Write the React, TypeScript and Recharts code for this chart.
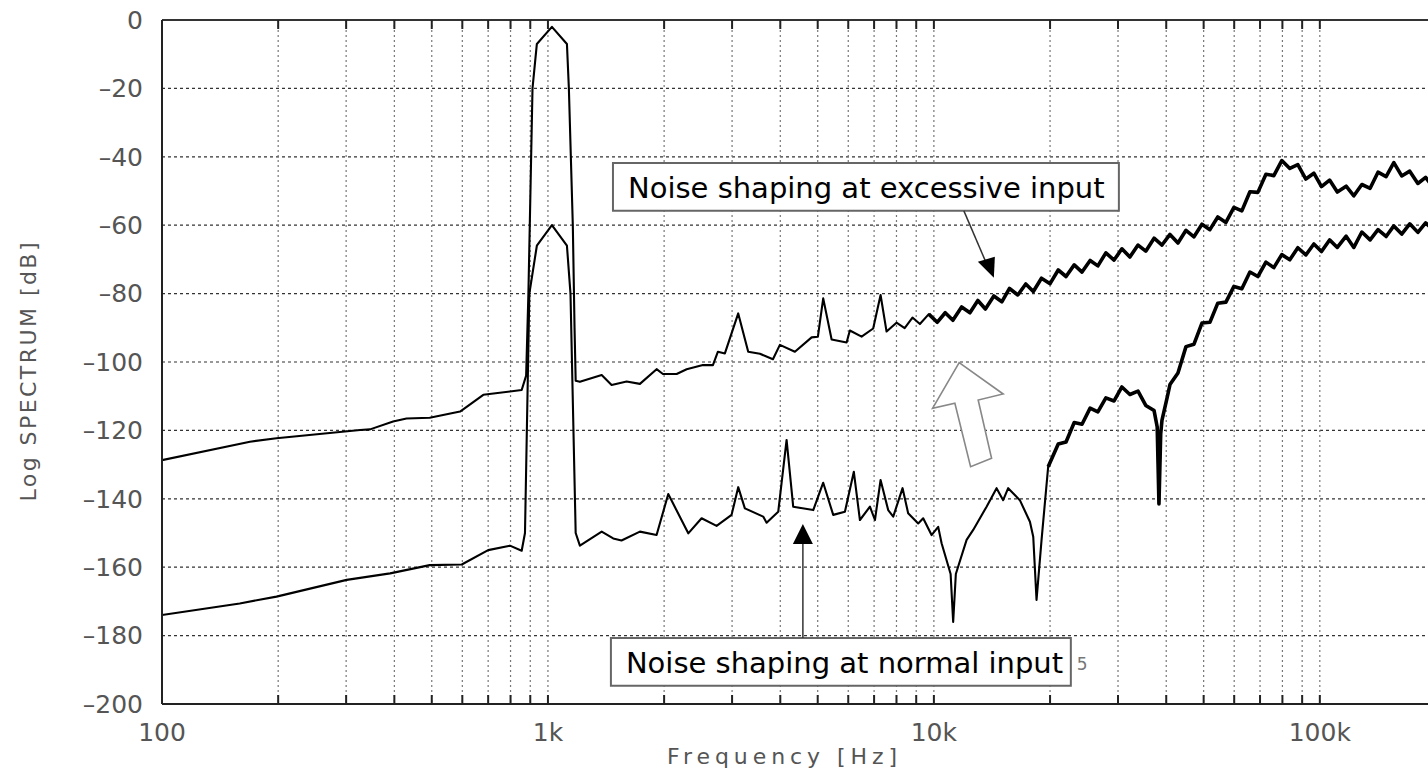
import React from 'react';
import {
  ComposedChart,
  Line,
  XAxis,
  YAxis,
  CartesianGrid,
  ReferenceArea,
  ReferenceLine,
  ReferenceDot,
} from 'recharts';

// ---------- axis ticks ----------
const freqTicks = [
  100, 200, 300, 400, 500, 600, 700, 800, 900,
  1000, 2000, 3000, 4000, 5000, 6000, 7000, 8000, 9000,
  10000, 20000, 30000, 40000, 50000, 60000, 70000, 80000, 90000,
  100000, 200000,
];
const freqLabelValues = [100, 1000, 10000, 100000];
const freqLabelTexts = ['100', '1k', '10k', '100k'];
const dbTicks = [0, -20, -40, -60, -80, -100, -120, -140, -160, -180, -200];

// ---------- series: noise shaping at excessive input ----------
const excessFreq = [
  100, 169, 198, 326, 346, 397, 430, 494, 592, 680,
  855, 878, 890, 912, 936, 1024, 1120, 1133, 1160, 1172,
  1180, 1210, 1378, 1462, 1599, 1731, 1912, 1986, 2155, 2288,
  2521, 2676, 2757, 2874, 3112, 3303, 3542, 3828, 3990, 4364,
  4822, 5006, 5167, 5433, 5941, 6058, 6497, 6962, 7276, 7541,
  8000, 8400, 8800, 9200, 9700, 10200, 10700, 11200, 11800, 12400,
  13000, 13600, 14300, 15000, 15700, 16500, 17300, 18100, 19000, 20000,
  21000, 22000, 23100, 24200, 25400, 26600, 27900, 29300, 30700, 32200,
  33800, 35400, 37200, 39000, 40900, 42900, 45000, 47200, 49500, 51900,
  54400, 57100, 59900, 62800, 65900, 69100, 72500, 76000, 79700, 83600,
  87700, 92000, 96500, 101000, 106000, 111000, 117000, 122500, 128500, 135000,
  141500, 148500, 155500, 163000, 171000, 179500, 188000, 197000,
];
const excessDb = [
  -128.7, -123.3, -122.3, -119.9, -119.7, -117.4, -116.5, -116.3, -114.5, -109.6,
  -108.2, -104, -80, -20, -7, -2, -7, -20, -60, -90,
  -105.5, -105.8, -103.8, -106.7, -105.7, -106.4, -102.1, -103.5, -103.5, -102.1,
  -100.9, -100.9, -97, -97.5, -85.8, -97, -97.6, -99.2, -95, -97,
  -92.8, -92.6, -81.4, -93.4, -94.3, -90.8, -92.6, -90.2, -80.4, -91.1,
  -88.5, -90.1, -87.0, -88.9, -86.0, -88.4, -85.6, -87.8, -83.9, -85.6,
  -82.0, -84.5, -80.7, -82.4, -78.5, -80.4, -77.2, -79.4, -75.5, -77.1,
  -73.1, -75.0, -71.6, -73.7, -70.3, -71.9, -68.1, -70.2, -66.9, -69.3,
  -65.8, -67.6, -63.8, -65.8, -62.7, -65.2, -61.5, -63.4, -59.7, -61.3,
  -57.6, -59.2, -54.8, -55.8, -50.2, -50.4, -45.1, -45.5, -41.1, -43.4,
  -42.3, -46.5, -44.8, -48.7, -46.8, -50.3, -48.6, -51.4, -48.1, -49.2,
  -44.5, -45.8, -41.7, -45.6, -44.2, -47.8, -46.0, -49.0,
];
// first sample of the dense-noise (thick) region
const excessNoiseStart = 9700;

// ---------- series: noise shaping at normal input ----------
const normalFreq = [
  100, 159, 198, 301, 390, 494, 598, 700, 797, 855,
  872, 895, 936, 1024, 1120, 1144, 1180, 1210, 1378, 1476,
  1551, 1731, 1912, 2050, 2310, 2501, 2735, 2991, 3112, 3238,
  3612, 3686, 3951, 4153, 4320, 4869, 5167, 5485, 5881, 6203,
  6432, 6828, 7036, 7276, 7614, 7846, 8296, 8577, 9107, 9382,
  9863, 10261, 10471, 11050, 11220, 11400, 11561, 12156, 12643, 13695,
  14536, 15118, 15578, 16703, 17736, 18091, 18450, 19011, 19777,
  21000, 22000, 23100, 24200, 25400, 26600, 27900, 29300, 30700, 32200,
  33800, 35400, 37200, 37900, 38300, 38700, 39000, 40200, 40900, 42900,
  45000, 47200, 49500, 51900, 54400, 57100, 59900, 62800, 65900, 69100,
  72500, 76000, 79700, 83600, 87700, 92000, 96500, 101000, 106000, 111000,
  117000, 122500, 128500, 135000, 141500, 148500, 155500, 163000, 171000, 179500,
  188000, 197000,
];
const normalDb = [
  -174, -170.6, -168.6, -163.7, -161.8, -159.4, -159.2, -155, -153.7, -155.2,
  -150, -80, -66, -60, -66, -80, -150, -153.7, -149.6, -151.6,
  -152.2, -149.6, -150.6, -138.6, -150.1, -145.7, -147.9, -144.7, -136.6, -142.8,
  -145.2, -147, -143.8, -122.8, -142.3, -143.3, -135.3, -144.7, -143.8, -132.1,
  -146.2, -142.3, -146.2, -134.5, -143.3, -145.2, -136.9, -144.2, -147.2, -145.7,
  -150.6, -148.2, -153, -162, -176, -162, -159.8, -152, -149.1, -142.3,
  -136.9, -140.4, -136.9, -140.4, -146.7, -151.1, -169.6, -152, -130.6,
  -124.0, -123.4, -117.7, -118.2, -113.5, -114.6, -110.5, -111.4, -107.3, -109.5,
  -108.5, -112.7, -114.2, -119, -141.5, -121, -117.0, -110.5, -106.6, -103.2,
  -95.5, -94.8, -88.6, -88.4, -82.8, -82.5, -77.9, -78.6, -73.7, -75.0,
  -70.8, -72.4, -68.6, -70.1, -66.6, -68.7, -65.5, -67.7, -64.3, -66.5,
  -63.2, -66.5, -62.0, -64.3, -61.3, -63.3, -60.2, -62.6, -59.6, -62.1,
  -59.3, -61.4,
];
const normalNoiseStart = 19777;

// ---------- annotation texts ----------
const excessLabel = 'Noise shaping at excessive input';
const normalLabel = 'Noise shaping at normal input';
const xTitle = 'Frequency [Hz]';
const yTitle = 'Log SPECTRUM [dB]';

const excessData = excessFreq.map((f, i) => ({ f, db: excessDb[i] }));
const normalData = normalFreq.map((f, i) => ({ f, db: normalDb[i] }));
const excessNoisy = excessData.filter((d) => d.f >= excessNoiseStart);
const normalNoisy = normalData.filter((d) => d.f >= normalNoiseStart);

const FONT = '"DejaVu Sans", Verdana, sans-serif';
const TEXT_GRAY = '#555';
const AXIS = '#222';

const labelFor = (v: number) => {
  const i = freqLabelValues.indexOf(v);
  return i >= 0 ? freqLabelTexts[i] : '';
};

const BottomTick = (props: any) => {
  const { x, y, payload } = props;
  const lbl = labelFor(payload.value);
  return (
    <g>
      <line x1={x} x2={x} y1={y} y2={y - 9} stroke={AXIS} strokeWidth={2} />
      {lbl ? (
        <text x={x} y={y + 37} textAnchor="middle" fill={TEXT_GRAY} fontSize={25} fontFamily={FONT}>
          {lbl}
        </text>
      ) : null}
    </g>
  );
};

const TopTick = (props: any) => {
  const { x, y } = props;
  return <line x1={x} x2={x} y1={y} y2={y + 9} stroke={AXIS} strokeWidth={2} />;
};

const YTitle = (p: any) => {
  const vb = p.viewBox || { x: 102, y: 20, width: 60, height: 684 };
  const cx = vb.x - 74;
  const cy = vb.y + vb.height / 2 + 10;
  return (
    <text
      x={cx}
      y={cy}
      transform={`rotate(-90 ${cx} ${cy})`}
      textAnchor="middle"
      dominantBaseline="central"
      fill={TEXT_GRAY}
      fontSize={22}
      fontFamily={FONT}
      textLength={259}
      lengthAdjust="spacing"
    >
      {yTitle}
    </text>
  );
};

const XTitle = (p: any) => {
  const vb = p.viewBox || { x: 162, y: 704, width: 1274, height: 40 };
  const cx = vb.x + 620;
  const cy = vb.y + 60;
  return (
    <text
      x={cx - 115}
      y={cy}
      fill={TEXT_GRAY}
      fontSize={22}
      fontFamily={FONT}
      textLength={230}
      lengthAdjust="spacing"
    >
      {xTitle}
    </text>
  );
};

const boxText = (text: string, extra?: string) => (p: any) => {
  const vb = p.viewBox;
  if (!vb) return null;
  return (
    <g>
      <text
        x={vb.x + 15}
        y={vb.y + vb.height / 2 + 1}
        dominantBaseline="central"
        fill="#000"
        fontSize={29}
        fontFamily={FONT}
      >
        {text}
      </text>
      {extra ? (
        <text
          x={vb.x + vb.width + 6}
          y={vb.y + vb.height / 2 + 8}
          fill="#777"
          fontSize={17}
          fontFamily={FONT}
        >
          {extra}
        </text>
      ) : null}
    </g>
  );
};

const ArrowHeadDown = (p: any) => {
  const { cx, cy } = p;
  return <polygon points={`${cx},${cy} ${cx - 16},${cy - 16} ${cx + 1},${cy - 21}`} fill="#000" />;
};

const ArrowHeadUp = (p: any) => {
  const { cx, cy } = p;
  return <polygon points={`${cx},${cy} ${cx - 10},${cy + 20} ${cx + 10},${cy + 20}`} fill="#000" />;
};

const HollowArrow = (p: any) => {
  const { cx, cy } = p;
  const pts = [
    [0, 0], [44, 31.3], [19, 37.3], [32.4, 95.6], [11.4, 104], [-4.3, 40.6], [-26.6, 45.6],
  ]
    .map(([dx, dy]) => `${cx + dx},${cy + dy}`)
    .join(' ');
  return <polygon points={pts} fill="#fff" stroke="#888" strokeWidth={1.6} strokeLinejoin="miter" />;
};

const lineCommon = {
  dataKey: 'db',
  type: 'linear' as const,
  stroke: '#000',
  strokeLinejoin: 'round' as const,
  dot: false,
  activeDot: false,
  isAnimationActive: false,
};

export default function App() {
  return (
    <div
      style={{
        position: 'fixed',
        left: 0,
        top: 0,
        width: 1428,
        height: 774,
        overflow: 'hidden',
        background: '#fff',
      }}
    >
      <ComposedChart width={1450} height={774} margin={{ top: 10, right: 14, bottom: 30, left: 102 }}>
        <CartesianGrid horizontal vertical={false} stroke="#333" strokeDasharray="3 3" strokeWidth={1.2} />
        <CartesianGrid horizontal={false} vertical stroke="#777" strokeDasharray="2 3" strokeWidth={1.2} />
        <XAxis
          xAxisId={0}
          dataKey="f"
          type="number"
          scale="log"
          domain={[100, 200000]}
          allowDataOverflow
          ticks={freqTicks}
          interval={0}
          tickLine={false}
          tickSize={0}
          tickMargin={0}
          height={40}
          axisLine={{ stroke: AXIS, strokeWidth: 2 }}
          tick={BottomTick}
          label={{ content: XTitle }}
        />
        <XAxis
          xAxisId="top"
          orientation="top"
          dataKey="f"
          type="number"
          scale="log"
          domain={[100, 200000]}
          allowDataOverflow
          ticks={freqTicks}
          interval={0}
          tickLine={false}
          tickSize={0}
          tickMargin={0}
          height={10}
          axisLine={{ stroke: '#333', strokeWidth: 2 }}
          tick={TopTick}
        />
        <YAxis
          type="number"
          domain={[-200, 0]}
          allowDataOverflow
          ticks={dbTicks}
          interval={0}
          width={60}
          tickLine={false}
          tickSize={0}
          tickMargin={19}
          axisLine={{ stroke: AXIS, strokeWidth: 2 }}
          tick={{ fill: TEXT_GRAY, fontSize: 25, fontFamily: FONT }}
          tickFormatter={(v: number) => (v === 0 ? '0' : '\u2013' + Math.abs(v))}
          label={{ content: YTitle }}
        />
        <Line {...lineCommon} data={excessData} strokeWidth={2.1} />
        <Line {...lineCommon} data={normalData} strokeWidth={2.1} />
        <Line {...lineCommon} data={excessNoisy} strokeWidth={3.6} />
        <Line {...lineCommon} data={normalNoisy} strokeWidth={3.6} />
        <ReferenceArea
          x1={1474}
          x2={30155}
          y1={-55.8}
          y2={-41.8}
          fill="#fff"
          fillOpacity={1}
          stroke="#666"
          strokeWidth={2}
          ifOverflow="visible"
          label={boxText(excessLabel)}
        />
        <ReferenceArea
          x1={1456}
          x2={22640}
          y1={-194.7}
          y2={-180.7}
          fill="#fff"
          fillOpacity={1}
          stroke="#666"
          strokeWidth={2}
          ifOverflow="visible"
          label={boxText(normalLabel, '5')}
        />
        <ReferenceLine
          segment={[{ x: 11960, y: -55.8 }, { x: 13637, y: -70.8 }]}
          stroke="#333"
          strokeWidth={1.5}
          ifOverflow="visible"
        />
        <ReferenceDot x={14302} y={-75.4} r={1} ifOverflow="visible" shape={ArrowHeadDown} />
        <ReferenceLine
          segment={[{ x: 4577, y: -180.7 }, { x: 4577, y: -153 }]}
          stroke="#333"
          strokeWidth={1.5}
          ifOverflow="visible"
        />
        <ReferenceDot x={4577} y={-147.4} r={1} ifOverflow="visible" shape={ArrowHeadUp} />
        <ReferenceDot x={11629} y={-100.2} r={1} ifOverflow="visible" shape={HollowArrow} />
      </ComposedChart>
    </div>
  );
}
